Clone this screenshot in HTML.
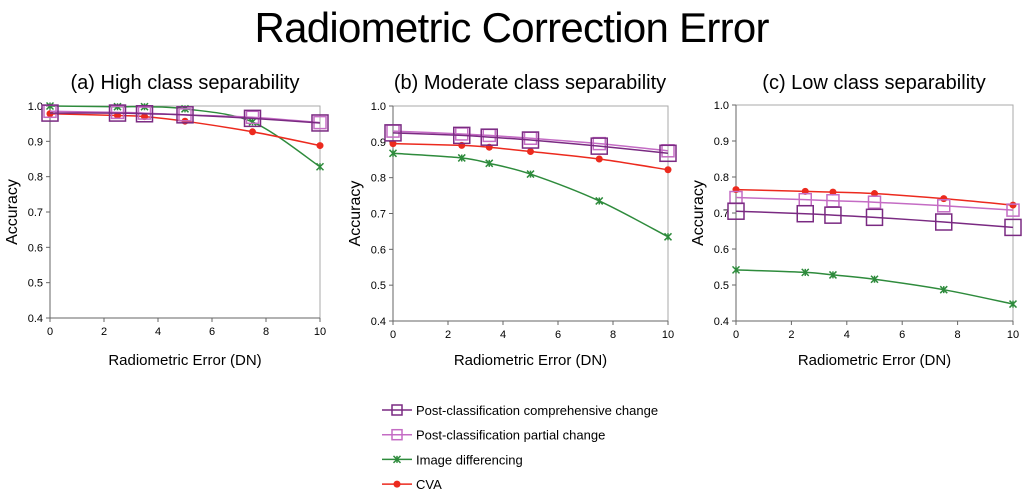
<!DOCTYPE html>
<html><head><meta charset="utf-8"><style>
body{margin:0;background:#fff;width:1024px;height:498px;overflow:hidden;font-family:"Liberation Sans",sans-serif}
svg{display:block}
</style></head><body>
<svg id="chart" width="1024" height="498" font-family="Liberation Sans, sans-serif">
<text x="512" y="42" text-anchor="middle" font-size="42" fill="#000" textLength="515">Radiometric Correction Error</text>
</svg>
<script>
const xCats=[0,2.5,3.5,5,7.5,10];
const seriesNames=["Post-classification comprehensive change","Post-classification partial change","Image differencing","CVA"];
const panelTitles=["(a) High class separability","(b) Moderate class separability","(c) Low class separability"];
const aComp=[0.98,0.98,0.978,0.975,0.965,0.952];
const aPart=[0.985,0.982,0.98,0.975,0.968,0.953];
const aDiff=[1.0,0.998,0.998,0.992,0.955,0.828];
const aCVA=[0.978,0.973,0.97,0.957,0.927,0.888];
const bComp=[0.925,0.918,0.913,0.905,0.888,0.868];
const bPart=[0.93,0.922,0.918,0.91,0.895,0.875];
const bDiff=[0.868,0.855,0.84,0.81,0.735,0.635];
const bCVA=[0.895,0.89,0.885,0.873,0.852,0.822];
const cComp=[0.705,0.698,0.694,0.688,0.675,0.66];
const cPart=[0.743,0.737,0.734,0.73,0.72,0.708];
const cDiff=[0.542,0.535,0.528,0.516,0.487,0.447];
const cCVA=[0.765,0.76,0.758,0.754,0.74,0.722];
const yTicks=["0.4","0.5","0.6","0.7","0.8","0.9","1.0"];
const xTicks=["0","2","4","6","8","10"];

const NS="http://www.w3.org/2000/svg";
const svg=document.getElementById('chart');
function mk(tag,attrs,parent){const e=document.createElementNS(NS,tag);for(const k in attrs)e.setAttribute(k,attrs[k]);(parent||svg).appendChild(e);return e;}
const colors=["#7a2a82","#c46cc4","#2e8b3c","#ec2a1e"];
const panels=[
 {x0:50,x1:320,y0:318,y1:106,tx:185,data:[aComp,aPart,aDiff,aCVA]},
 {x0:393,x1:668,y0:321,y1:106,tx:530,data:[bComp,bPart,bDiff,bCVA]},
 {x0:736,x1:1013,y0:321,y1:105,tx:874,data:[cComp,cPart,cDiff,cCVA]}];
function smooth(pts){let d="M"+pts[0][0]+","+pts[0][1];for(let i=0;i<pts.length-1;i++){const p0=pts[Math.max(0,i-1)],p1=pts[i],p2=pts[i+1],p3=pts[Math.min(pts.length-1,i+2)];const t=0.16;d+=" C"+(p1[0]+(p2[0]-p0[0])*t)+","+(p1[1]+(p2[1]-p0[1])*t)+" "+(p2[0]-(p3[0]-p1[0])*t)+","+(p2[1]-(p3[1]-p1[1])*t)+" "+p2[0]+","+p2[1];}return d;}
function marker(s,x,y,g,big){
 if(s<2){const r=big?(s==0?8:6):5;const e=mk('rect',{x:x-r,y:y-r,width:2*r,height:2*r,fill:'none',stroke:colors[s],'stroke-width':1.5},g);}
 else if(s==2){const r=3.5;const e=mk('path',{d:`M${x-r},${y-r}L${x+r},${y+r}M${x-r},${y+r}L${x+r},${y-r}M${x},${y-r}L${x},${y+r}`,stroke:colors[2],'stroke-width':1.5},g);}
 else{const e=mk('circle',{cx:x,cy:y,r:3.5,fill:colors[3]},g);}
}
panels.forEach((p,pi)=>{
 const sx=v=>p.x0+(p.x1-p.x0)*v/10, sy=v=>p.y0+(p.y1-p.y0)*(v-0.4)/0.6;
 const g=mk('g',{});
 
 
 const t=mk('text',{x:p.tx,y:89,'text-anchor':'middle','font-size':20},g);t.textContent=panelTitles[pi];
 
 
 const fr=mk('rect',{x:p.x0,y:p.y1,width:p.x1-p.x0,height:p.y0-p.y1,fill:'none',stroke:'#aaa','stroke-width':1},g);
 
 
 mk('line',{x1:p.x0,y1:p.y1,x2:p.x0,y2:p.y0,stroke:'#666'},g);
 mk('line',{x1:p.x0,y1:p.y0,x2:p.x1,y2:p.y0,stroke:'#666'},g);
 yTicks.forEach(v=>{const y=sy(+v);mk('line',{x1:p.x0-4,y1:y,x2:p.x0,y2:y,stroke:'#666'},g);const tt=mk('text',{x:p.x0-7,y:y+4,'text-anchor':'end','font-size':11},g);tt.textContent=v;
  
  });
 xTicks.forEach(v=>{const x=sx(+v);mk('line',{x1:x,y1:p.y0,x2:x,y2:p.y0+4,stroke:'#666'},g);const tt=mk('text',{x:x,y:p.y0+17,'text-anchor':'middle','font-size':11},g);tt.textContent=v;
  
  });
 const yl=mk('text',{transform:`translate(${p.x0-33},${(p.y0+p.y1)/2}) rotate(-90)`,'text-anchor':'middle','font-size':16},g);yl.textContent="Accuracy";
 
 
 const xl=mk('text',{x:(p.x0+p.x1)/2,y:365,'text-anchor':'middle','font-size':15},g);xl.textContent="Radiometric Error (DN)";
 
 
 [2,3,1,0].forEach(s=>{
  const pts=xCats.map((c,i)=>[sx(c),sy(p.data[s][i])]);
  const ln=mk('path',{d:smooth(pts),fill:'none',stroke:colors[s],'stroke-width':1.5},g);
  
  
  pts.forEach(q=>marker(s,q[0],q[1],g,true));
 });
});
seriesNames.forEach((n,i)=>{
 const y=410+i*24.7;
 const g=mk('g',{});
 
 
 mk('line',{x1:382,y1:y,x2:412,y2:y,stroke:colors[i],'stroke-width':1.5},g);
 marker(i,397,y,g,false);
 const t=mk('text',{x:416,y:y+5,'font-size':13},g);t.textContent=n;
});
</script>
</body></html>
